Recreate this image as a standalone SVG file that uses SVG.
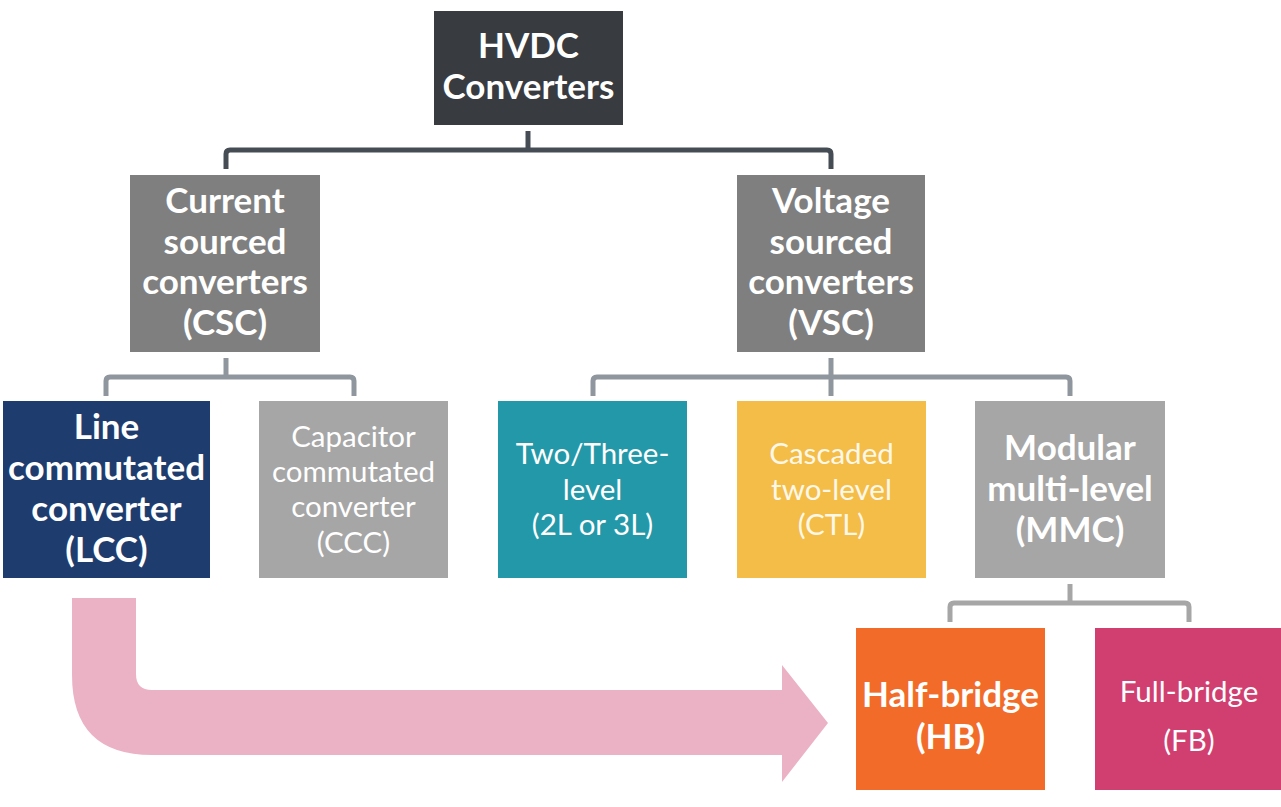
<svg xmlns="http://www.w3.org/2000/svg" width="1281" height="807" viewBox="0 0 1281 807">
<style>
text{font-family:Lato,"Open Sans","Liberation Sans",sans-serif;text-anchor:middle;fill:#fff}
.b{font-weight:bold;font-size:35px}
.r{font-size:29.5px}
.c1{fill:none;stroke:#464c54;stroke-width:5;stroke-linejoin:round}
.c2{fill:none;stroke:#8f969d;stroke-width:5;stroke-linejoin:round}
.c3{fill:none;stroke:#a6a6a6;stroke-width:5;stroke-linejoin:round}
</style>
<rect width="1281" height="807" fill="#fff"/>
<g id="connectors">
<path class="c1" d="M528 131V150"/>
<path class="c1" d="M226 169V154Q226 150 230 150H827Q831 150 831 154V169"/>
<path class="c2" d="M226 358V377"/>
<path class="c2" d="M106 396V381Q106 377 110 377H350Q354 377 354 381V396"/>
<path class="c2" d="M831 358V396"/>
<path class="c2" d="M593 396V381Q593 377 597 377H1066Q1070 377 1070 381V396"/>
<path class="c3" d="M1070 584V603"/>
<path class="c3" d="M950 622V607Q950 603 954 603H1185Q1189 603 1189 607V622"/>
<path id="arrow" fill="#ebb2c6" d="M72 598H136V674Q136 690 152 690H782V665L828 723L782 782V755H152Q72 755 72 675Z"/>
</g>
<g id="hvdc"><rect x="434" y="11" width="189" height="114" fill="#383c41"/>
<text class="b" x="528.5" y="58">HVDC</text><text class="b" x="528.5" y="99">Converters</text></g>
<g id="csc"><rect x="130" y="175" width="190" height="177" fill="#7f7f7f"/>
<text class="b" x="225" y="213">Current</text><text class="b" x="225" y="254">sourced</text><text class="b" x="225" y="294">converters</text><text class="b" x="225" y="335">(CSC)</text></g>
<g id="vsc"><rect x="737" y="175" width="188" height="177" fill="#7f7f7f"/>
<text class="b" x="831" y="213">Voltage</text><text class="b" x="831" y="254">sourced</text><text class="b" x="831" y="294">converters</text><text class="b" x="831" y="335">(VSC)</text></g>
<g id="lcc"><rect x="3" y="401" width="207" height="177" fill="#1e3d6e"/>
<text class="b" x="106.5" y="439">Line</text><text class="b" x="106.5" y="480">commutated</text><text class="b" x="106.5" y="521">converter</text><text class="b" x="106.5" y="562">(LCC)</text></g>
<g id="ccc"><rect x="259" y="401" width="189" height="177" fill="#a6a6a6"/>
<text class="r" x="353.5" y="447" fill="#f2f2f2">Capacitor</text><text class="r" x="353.5" y="482" fill="#f2f2f2">commutated</text><text class="r" x="353.5" y="517" fill="#f2f2f2">converter</text><text class="r" x="353.5" y="553" fill="#f2f2f2">(CCC)</text></g>
<g id="twolevel"><rect x="498" y="401" width="189" height="177" fill="#2398a8"/>
<text class="r" x="592.5" y="464">Two/Three-</text><text class="r" x="592.5" y="500">level</text><text class="r" x="592.5" y="535">(2L or 3L)</text></g>
<g id="ctl"><rect x="737" y="401" width="189" height="177" fill="#f3bd48"/>
<text class="r" x="831.5" y="464" style="fill:#fff8e8">Cascaded</text><text class="r" x="831.5" y="500" style="fill:#fff8e8">two-level</text><text class="r" x="831.5" y="535" style="fill:#fff8e8">(CTL)</text></g>
<g id="mmc"><rect x="975" y="401" width="190" height="177" fill="#a6a6a6"/>
<text class="b" x="1070" y="460">Modular</text><text class="b" x="1070" y="501">multi-level</text><text class="b" x="1070" y="542">(MMC)</text></g>
<g id="hb"><rect x="856" y="628" width="189" height="162" fill="#f26b28"/>
<text class="b" x="950.5" y="707">Half-bridge</text><text class="b" x="950.5" y="749">(HB)</text></g>
<g id="fb"><rect x="1095" y="628" width="186" height="162" fill="#d13f70"/>
<text class="r" x="1189" y="702">Full-bridge</text><text class="r" x="1189" y="751">(FB)</text></g>
</svg>
